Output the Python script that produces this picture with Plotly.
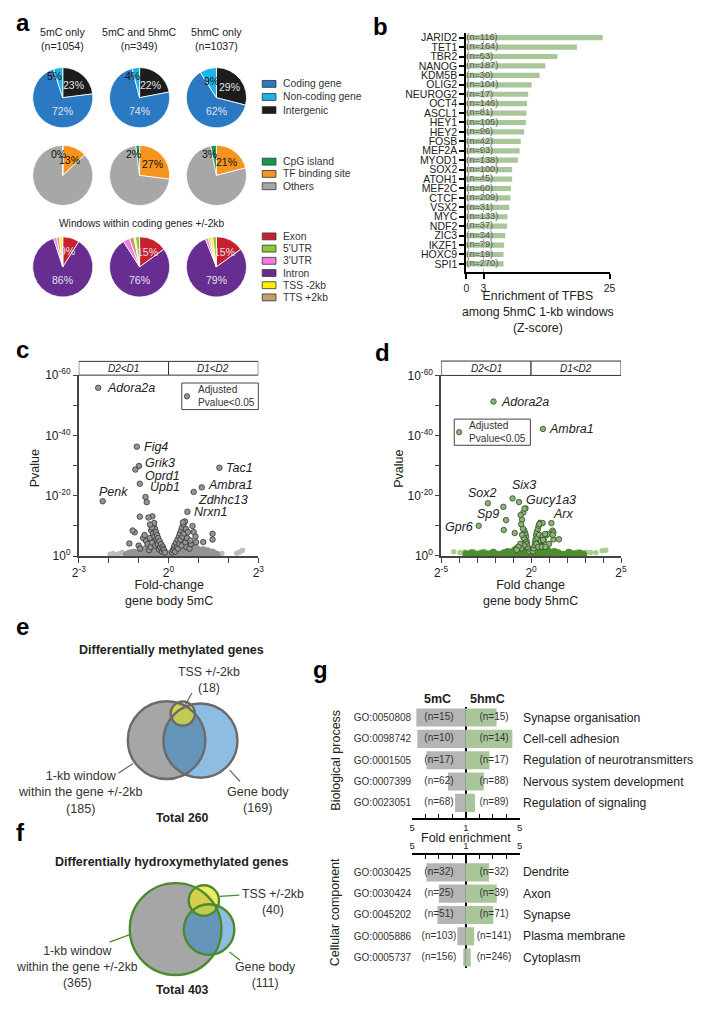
import math
import plotly.graph_objects as go

# The page adds an 8px body margin, so the figure is made 16px smaller than the
# 705x1009 window; coordinates below are given in window pixels and converted.
WIN_W, WIN_H = 705, 1009
PAGE_MARGIN = 8
W, H = WIN_W - 2 * PAGE_MARGIN, WIN_H - 2 * PAGE_MARGIN
FONT = "Liberation Sans, Arial, Helvetica, sans-serif"


def PX(x):
    return (x - PAGE_MARGIN) / W


def PY(y):
    return 1 - (y - PAGE_MARGIN) / H


# ---------------- panel a data ----------------
pie_groups = ["5mC only", "5mC and 5hmC", "5hmC only"]
pie_group_n = [1054, 349, 1037]

region_labels = ["Coding gene", "Non-coding gene", "Intergenic"]
region_colors = ["#2a79c2", "#1cb3ea", "#1c1c1c"]
region_5mC = [72, 5, 23]
region_both = [74, 4, 22]
region_5hmC = [62, 9, 29]

feature_labels = ["CpG island", "TF binding site", "Others"]
feature_colors = ["#139a4f", "#f7941e", "#a7a7a7"]
feature_5mC = [0, 13, 87]
feature_both = [2, 27, 71]
feature_5hmC = [3, 21, 76]

genic_title = "Windows within coding genes +/-2kb"
genic_labels = ["Exon", "5'UTR", "3'UTR", "Intron", "TSS -2kb", "TTS +2kb"]
genic_colors = ["#c9202f", "#8dc63f", "#f57ae6", "#672d91", "#fff200", "#c69c6d"]
genic_5mC = [9, 0.3, 1.7, 86, 1.5, 1.5]
genic_both = [15, 2.2, 3.5, 76, 0.8, 2.5]
genic_5hmC = [15, 2.0, 1.5, 79, 1.5, 1.0]

# ---------------- panel b data ----------------
tf_names = ["JARID2", "TET1", "TBR2", "NANOG", "KDM5B", "OLIG2", "NEUROG2", "OCT4",
            "ASCL1", "HEY1", "HEY2", "FOSB", "MEF2A", "MYOD1", "SOX2", "ATOH1",
            "MEF2C", "CTCF", "VSX2", "MYC", "NDF2", "ZIC3", "IKZF1", "HOXC9", "SPI1"]
tf_z = [23.8, 19.3, 15.9, 13.8, 12.8, 11.4, 10.8, 10.6, 10.5, 10.4, 10.1, 9.5, 9.3,
        9.0, 8.0, 8.0, 7.8, 7.7, 7.5, 7.2, 7.1, 6.8, 6.6, 6.5, 6.5]
tf_n = [116, 164, 53, 187, 30, 104, 17, 146, 81, 105, 96, 42, 93, 138, 100, 45, 60,
        209, 31, 133, 37, 34, 79, 19, 270]
tf_ticks = [0, 3, 25]

# ---------------- panel c data (log2 fold change, -log10 p) ----------------
c_background = [
    (-1.4, 0.4), (-1.3, 0.9), (-1.15, 0.4), (-1.15, 1.1), (-1.0, 0.4), (-1.0, 1.0), (-0.9, 0.5),
    (-0.9, 1.5), (-0.8, 0.4), (-0.8, 1.2), (-0.8, 2.2), (-0.7, 0.5), (-0.7, 1.5), (-0.7, 2.8),
    (-0.6, 0.4), (-0.6, 1.2), (-0.6, 2.3), (-0.6, 3.5), (-0.5, 0.5), (-0.5, 1.5), (-0.5, 2.6),
    (-0.5, 3.8), (-0.5, 4.8), (-0.4, 0.4), (-0.4, 1.2), (-0.4, 2.2), (-0.4, 3.3), (-0.4, 4.3),
    (-0.3, 0.5), (-0.3, 1.5), (-0.3, 2.5), (-0.3, 3.4), (-0.2, 0.4), (-0.2, 1.2), (-0.2, 2.2),
    (-0.12, 0.4), (-0.12, 1.1), (-0.05, 0.4), (0.05, 0.4), (0.12, 0.4), (0.12, 1.1),
    (0.2, 0.4), (0.2, 1.2), (0.2, 2.2), (0.3, 0.5), (0.3, 1.5), (0.3, 2.5), (0.3, 3.4),
    (0.4, 0.4), (0.4, 1.2), (0.4, 2.2), (0.4, 3.3), (0.4, 4.3), (0.5, 0.5), (0.5, 1.5),
    (0.5, 2.6), (0.5, 3.8), (0.5, 4.8), (0.6, 0.4), (0.6, 1.2), (0.6, 2.3), (0.6, 3.5),
    (0.6, 4.5), (0.7, 0.5), (0.7, 1.5), (0.7, 2.8), (0.7, 3.8), (0.8, 0.4), (0.8, 1.2),
    (0.8, 2.5), (0.8, 3.3), (0.9, 0.5), (0.9, 1.5), (0.9, 2.6), (1.0, 0.4), (1.0, 1.2),
    (1.0, 2.0), (1.15, 0.5), (1.15, 1.3), (1.15, 2.0), (1.3, 0.4), (1.3, 1.0), (1.3, 1.6),
    (1.45, 0.5), (1.45, 1.1), (1.6, 0.5),
]
c_faint = [
    (-1.95, 0.6), (-1.85, 0.9), (-1.75, 0.5), (-1.65, 0.8), (-1.55, 1.2), (-1.45, 0.5),
    (-1.35, 1.0), (-1.25, 1.5), (1.5, 1.6), (1.6, 1.0), (1.7, 0.5), (1.78, 0.9),
    (2.28, 1.0), (2.38, 1.4), (2.47, 2.0),
]
c_significant = [
    (-2.35, 55.8), (-1.06, 36.3), (-0.99, 29.9), (-1.11, 28.7), (-0.96, 24.0), (-0.77, 19.6),
    (-0.73, 17.9), (-2.2, 18.2), (-0.96, 13.1), (-0.54, 13.2), (-0.67, 12.8), (-1.13, 7.9),
    (-1.31, 4.2), (-1.2, 8.5), (-1.0, 3.5), (-0.95, 2.5), (-0.85, 6.0), (-0.8, 7.0),
    (-0.75, 5.0), (-0.7, 4.0), (-0.65, 2.0), (-0.62, 6.0), (-0.6, 3.0), (-0.58, 8.5),
    (-0.55, 4.5), (-0.52, 7.5), (-0.5, 10.0), (-0.47, 6.5), (-0.45, 9.0), (-0.44, 3.5),
    (-0.42, 8.0), (-0.4, 5.5), (-0.38, 7.0), (-0.36, 4.0), (-0.35, 6.0), (-0.32, 2.2),
    (-0.3, 5.0), (-0.28, 3.0), (-0.25, 4.0), (-0.22, 1.5), (-0.2, 3.2), (-0.18, 2.5),
    (-0.15, 2.0), (-0.12, 1.2), (-0.48, 11.0), (-0.56, 9.5), (-0.62, 10.5),
    (0.12, 1.2), (0.15, 2.0), (0.18, 2.8), (0.2, 3.5), (0.22, 1.5), (0.25, 4.5), (0.28, 3.0),
    (0.3, 5.5), (0.32, 2.5), (0.35, 6.5), (0.36, 4.0), (0.38, 7.5), (0.4, 5.5), (0.42, 8.5),
    (0.44, 3.5), (0.45, 9.5), (0.47, 6.5), (0.5, 10.5), (0.52, 7.5), (0.55, 11.5), (0.56, 4.5),
    (0.58, 9.0), (0.6, 3.0), (0.62, 6.0), (0.65, 8.0), (0.7, 2.5), (0.75, 4.0), (0.8, 10.0),
    (0.84, 8.0), (0.92, 4.6), (1.16, 4.7), (1.47, 7.4), (1.47, 5.5), (0.9, 6.5), (0.48, 11.2),
    (0.73, 5.2), (1.70, 29.3), (1.11, 22.8), (0.84, 21.3), (0.63, 14.7),
]
c_genes = ["Adora2a", "Fig4", "Grik3", "Oprd1", "Upb1", "Penk", "Tac1", "Ambra1", "Zdhhc13", "Nrxn1"]
c_gene_fc = [-2.35, -1.06, -0.99, -1.11, -0.96, -2.2, 1.70, 1.11, 0.84, 0.63]
c_gene_p = [55.8, 36.3, 29.9, 28.7, 24.0, 18.2, 29.3, 22.8, 21.3, 14.7]
c_label_style = [("left", 8, 0), ("left", 6, 0), ("left", 5, 3), ("left", 9, -6), ("left", 9, -3),
                 ("center", 11, 9), ("left", 6, 0), ("left", 5, 2), ("left", 3, -8), ("left", 6, 0)]

# ---------------- panel d data ----------------
d_background = [
    (-3.6, 0.5), (-3.3, 0.9), (-3.0, 0.4), (-2.7, 0.8), (-2.4, 0.5), (-2.1, 1.0), (-1.8, 0.4),
    (-1.5, 0.9), (-1.3, 1.3), (-1.2, 0.5), (-1.0, 0.4), (-1.0, 1.2), (-0.9, 0.6), (-0.9, 1.8),
    (-0.8, 0.4), (-0.8, 1.2), (-0.8, 2.2), (-0.7, 0.6), (-0.7, 1.6), (-0.7, 2.6), (-0.6, 0.4),
    (-0.6, 1.2), (-0.6, 2.2), (-0.6, 3.0), (-0.5, 0.6), (-0.5, 1.6), (-0.5, 2.6), (-0.5, 3.5),
    (-0.4, 0.4), (-0.4, 1.2), (-0.4, 2.2), (-0.4, 3.2), (-0.3, 0.6), (-0.3, 1.6), (-0.3, 2.6),
    (-0.2, 0.4), (-0.2, 1.2), (-0.2, 2.0), (-0.1, 0.6), (-0.1, 1.4), (0.0, 0.4), (0.0, 1.0),
    (0.1, 0.6), (0.1, 1.4), (0.2, 0.4), (0.2, 1.2), (0.2, 2.0), (0.3, 0.6), (0.3, 1.6),
    (0.3, 2.6), (0.4, 0.4), (0.4, 1.2), (0.4, 2.2), (0.4, 3.2), (0.5, 0.6), (0.5, 1.6),
    (0.5, 2.6), (0.5, 3.5), (0.6, 0.4), (0.6, 1.2), (0.6, 2.2), (0.6, 3.0), (0.7, 0.6),
    (0.7, 1.6), (0.7, 2.6), (0.8, 0.4), (0.8, 1.2), (0.8, 2.2), (0.9, 0.6), (0.9, 1.8),
    (1.0, 0.4), (1.0, 1.2), (1.2, 0.5), (1.3, 1.3), (1.5, 0.9), (1.8, 0.4), (2.1, 1.0),
    (2.4, 0.5), (2.7, 0.8), (2.9, 0.4),
]
d_faint = [
    (-4.3, 1.4), (-3.95, 1.1), (-3.7, 1.3), (-3.4, 1.0), (-3.15, 1.4), (-2.85, 1.2), (-2.6, 1.5),
    (2.55, 1.3), (2.8, 1.0), (3.05, 1.2), (3.3, 1.1), (3.6, 1.0), (3.95, 1.7), (4.15, 1.9),
]
d_significant = [
    (-2.09, 51.3), (0.66, 42.2), (-2.40, 17.5), (-1.54, 16.3), (-1.03, 19.1), (-0.67, 17.9),
    (-2.91, 10.0), (1.13, 10.9), (-1.39, 11.9), (-1.52, 8.6), (-0.91, 7.6), (-0.31, 15.8),
    (-0.43, 14.4), (-0.58, 13.6), (-0.36, 15.7), (-0.5, 12.0), (-0.55, 10.5),
    (-0.1, 1.5), (-0.15, 2.5), (-0.2, 3.0), (-0.22, 4.0), (-0.25, 5.0), (-0.28, 6.5), (-0.3, 4.5),
    (-0.32, 7.5), (-0.35, 5.5), (-0.38, 8.5), (-0.4, 3.5), (-0.42, 6.0), (-0.45, 9.0), (-0.5, 7.0),
    (-0.55, 2.5), (-0.6, 4.0), (-0.7, 3.0), (-0.8, 2.0),
    (0.1, 1.5), (0.15, 2.5), (0.2, 3.5), (0.22, 4.5), (0.25, 5.5), (0.28, 7.0), (0.3, 4.0),
    (0.32, 8.0), (0.35, 6.0), (0.38, 9.0), (0.4, 3.0), (0.42, 10.0), (0.45, 7.0), (0.5, 11.0),
    (0.55, 5.0), (0.6, 3.0), (0.65, 6.5), (0.7, 5.1), (0.84, 6.8), (0.93, 7.3), (1.19, 8.4),
    (1.24, 7.8), (1.24, 5.5), (1.55, 5.5), (1.0, 4.0), (0.8, 3.0), (0.64, 10.9), (0.46, 10.6),
    (1.2, 7.0), (0.78, 7.3), (0.67, 5.3),
]
d_genes = ["Adora2a", "Ambra1", "Sox2", "Sp9", "Six3", "Gucy1a3", "Gpr6", "Arx"]
d_gene_fc = [-2.09, 0.66, -2.40, -1.54, -1.03, -0.67, -2.91, 1.13]
d_gene_p = [51.3, 42.2, 17.5, 16.3, 19.1, 17.9, 10.0, 10.9]
d_label_style = [("left", 7, 0), ("left", 5, 0), ("right", 10, 10), ("right", -3, -7),
                 ("left", -2, 13), ("left", 6, 2), ("right", -5, -1), ("left", 1, 9)]
legend_text = "Adjusted<br>Pvalue&lt;0.05"

# ---------------- panel e / f data ----------------
venn_e = {"window": 185, "body": 169, "tss": 18, "total": 260}
venn_f = {"window": 365, "body": 111, "tss": 40, "total": 403}

# ---------------- panel g data ----------------
bp_go = ["GO:0050808", "GO:0098742", "GO:0001505", "GO:0007399", "GO:0023051"]
bp_terms = ["Synapse organisation", "Cell-cell adhesion", "Regulation of neurotransmitters",
            "Nervous system development", "Regulation of signaling"]
bp_fold_5mc = [4.68, 4.61, 3.93, 2.33, 1.80]
bp_fold_5hmc = [3.29, 4.46, 2.76, 2.34, 1.68]
bp_n_5mc = [15, 10, 17, 62, 68]
bp_n_5hmc = [15, 14, 17, 88, 89]

cc_go = ["GO:0030425", "GO:0030424", "GO:0045202", "GO:0005886", "GO:0005737"]
cc_terms = ["Dendrite", "Axon", "Synapse", "Plasma membrane", "Cytoplasm"]
cc_fold_5mc = [3.93, 3.01, 3.11, 1.63, 1.19]
cc_fold_5hmc = [2.72, 3.30, 3.04, 1.61, 1.36]
cc_n_5mc = [32, 25, 51, 103, 156]
cc_n_5hmc = [32, 39, 71, 141, 246]
fold_ticks = [1, 2, 3, 4, 5]

# =====================================================================
fig = go.Figure()
annotations = []
shapes = []


def ann(x, y, text, size=11.5, color="#222", xanchor="center", yanchor="middle", **kw):
    d = dict(x=PX(x), y=PY(y), xref="paper", yref="paper", text=text, showarrow=False,
             font=dict(size=size, color=color, family=FONT), xanchor=xanchor, yanchor=yanchor,
             borderpad=0)
    d.update(kw)
    annotations.append(d)


# ---- panel letters ----
for letter, lx, ly in [("a", 8, 14), ("b", 372, 18), ("c", 8, 346), ("d", 374, 349),
                       ("e", 8, 627), ("f", 8, 837), ("g", 311, 671)]:
    ann(lx, ly, "<b>%s</b>" % letter, size=24, color="#000", xanchor="left")

# ---- panel a: pies ----
R = 30.7
col_x = [56.7, 135.0, 213.3]
for i, g in enumerate(pie_groups):
    ann(col_x[i], 30.0, "%s<br>(n=%d)" % (g, pie_group_n[i]), size=10.6)
ann(137, 218, genic_title, size=10.2)

pie_rows = [
    dict(labels=region_labels, colors=region_colors, values=[region_5mC, region_both, region_5hmC],
         order=[2, 0, 1], shown={0, 1, 2}, dark={0, 2}, cy=90.0, legend_y=76.0, step=13.3),
    dict(labels=feature_labels, colors=feature_colors, values=[feature_5mC, feature_both, feature_5hmC],
         order=[1, 2, 0], shown={0, 1}, dark=set(), cy=169.0, legend_y=155.0, step=12.5),
    dict(labels=genic_labels, colors=genic_colors, values=[genic_5mC, genic_both, genic_5hmC],
         order=[0, 3, 2, 5, 4, 1], shown={0, 3}, dark={0, 3}, cy=262.0, legend_y=231.0, step=12.4),
]

for row in pie_rows:
    cy = row["cy"]
    for ci, vals in enumerate(row["values"]):
        cx = col_x[ci]
        order = row["order"]
        fig.add_trace(go.Pie(
            labels=[row["labels"][k] for k in order],
            values=[vals[k] for k in order],
            marker=dict(colors=[row["colors"][k] for k in order], line=dict(color="white", width=0.8)),
            sort=False, direction="clockwise", rotation=0, textinfo="none", hoverinfo="label+percent",
            showlegend=False,
            domain=dict(x=[PX(cx - R), PX(cx + R)], y=[PY(cy + R), PY(cy - R)]),
        ))
        total = float(sum(vals))
        cum = 0.0
        for k in order:
            frac = vals[k] / total
            start = cum
            cum += frac
            if k not in row["shown"]:
                continue
            mid = (start + frac / 2) * 2 * math.pi
            if frac > 0.5:
                ang, r, xa, xs = math.pi, 0.45 * R, "center", 0
            elif frac < 0.06:
                ang, r, xa, xs = mid, 0.72 * R, "right", 4
            else:
                ang, r, xa, xs = mid, 0.56 * R, "center", 0
            tx = cx + r * math.sin(ang)
            ty = cy - r * math.cos(ang)
            col = "#e2e0ec" if k in row["dark"] else "#111"
            ann(tx, ty, "%d%%" % round(vals[k]), size=10.5, color=col, xanchor=xa, xshift=xs)
    # legend drawn as swatches + text
    for j, (lab, colr) in enumerate(zip(row["labels"], row["colors"])):
        yy = row["legend_y"] + j * row["step"]
        shapes.append(dict(type="rect", xref="paper", yref="paper", x0=PX(260), x1=PX(274),
                           y0=PY(yy + 3.5), y1=PY(yy - 3.5), fillcolor=colr,
                           line=dict(color="#333", width=0.8)))
        ann(280, yy, lab, size=10.3, color="#333", xanchor="left")

# ---- panel b ----
fig.add_trace(go.Bar(x=tf_z, y=tf_names, orientation="h", width=0.55,
                     marker=dict(color="#a9c69a", line=dict(width=0)),
                     xaxis="x", yaxis="y", showlegend=False))
fig.add_trace(go.Scatter(x=[0.0] * len(tf_names), y=tf_names, mode="text",
                         text=["(n=%d)" % n for n in tf_n], textposition="middle right",
                         textfont=dict(size=9.2, color="#555", family=FONT),
                         xaxis="x", yaxis="y", showlegend=False, cliponaxis=False, hoverinfo="skip"))
shapes.append(dict(type="line", xref="x", yref="y domain", x0=3, x1=3, y0=0, y1=1.0,
                   line=dict(color="#aaa", width=1, dash="dot")))
ann(541, 307.5, "Enrichment of TFBS<br>among 5hmC 1-kb windows<br>(Z-score)", size=12.3)

# ---- panels c and d ----
def volcano(bg, faint, sig, xa, ya, bgcol, faintcol, sigfill, sigline):
    fig.add_trace(go.Scatter(x=[p[0] for p in faint], y=[p[1] for p in faint], mode="markers",
                             marker=dict(size=5.5, color=faintcol), xaxis=xa, yaxis=ya,
                             showlegend=False, hoverinfo="skip"))
    fig.add_trace(go.Scatter(x=[p[0] for p in bg], y=[p[1] for p in bg], mode="markers",
                             marker=dict(size=8, color=bgcol), xaxis=xa, yaxis=ya,
                             showlegend=False, hoverinfo="skip"))
    fig.add_trace(go.Scatter(x=[p[0] for p in sig], y=[p[1] for p in sig], mode="markers",
                             marker=dict(size=5.5, color=sigfill, line=dict(color=sigline, width=0.8)),
                             xaxis=xa, yaxis=ya, name="Adjusted Pvalue&lt;0.05", showlegend=False))


volcano(c_background, c_faint, c_significant, "x2", "y2", "#939393", "#bdbdbd", "#959595", "#333")
volcano(d_background, d_faint, d_significant, "x3", "y3", "#4f8c30", "#a9d08e", "#8db27a", "#2f4d22")


def gene_labels(names, fc, p, styles, xa, ya):
    for n, x, y, (anc, xs, ys) in zip(names, fc, p, styles):
        annotations.append(dict(x=x, y=y, xref=xa, yref=ya, text="<i>%s</i>" % n, showarrow=False,
                                xanchor=anc, yanchor="middle", xshift=xs, yshift=ys, borderpad=0,
                                font=dict(size=12.5, color="#222", family=FONT)))


gene_labels(c_genes, c_gene_fc, c_gene_p, c_label_style, "x2", "y2")
gene_labels(d_genes, d_gene_fc, d_gene_p, d_label_style, "x3", "y3")

for xa, lo, hi, top, bot in [("x2", -3, 3, 358, 372), ("x3", -5, 5, 357.7, 372.3)]:
    for a, b, lab in [(lo, 0, "D2&lt;D1"), (0, hi, "D1&lt;D2")]:
        shapes.append(dict(type="rect", xref=xa, yref="paper", x0=a, x1=b, y0=PY(bot), y1=PY(top),
                           line=dict(color="#333", width=1), fillcolor="white"))
        annotations.append(dict(x=(a + b) / 2, y=PY((top + bot) / 2), xref=xa, yref="paper",
                                text="<i>%s</i>" % lab, showarrow=False, borderpad=0,
                                font=dict(size=10, color="#222", family=FONT)))

# boxed keys for the significant points
for (bx0, by0, bx1, by1), (mx, my), tx, fill, edge in [
        ((178, 380, 256, 407), (183.3, 393.5), 193.3, "#959595", "#333"),
        ((455.7, 416.7, 533.3, 443.3), (460.7, 430), 470, "#8db27a", "#2f4d22")]:
    shapes.append(dict(type="rect", xref="paper", yref="paper", x0=PX(bx0), x1=PX(bx1),
                       y0=PY(by1), y1=PY(by0), line=dict(color="#444", width=1), fillcolor="white"))
    shapes.append(dict(type="circle", xref="paper", yref="paper", x0=PX(mx - 2.7), x1=PX(mx + 2.7),
                       y0=PY(my + 2.7), y1=PY(my - 2.7), fillcolor=fill, line=dict(color=edge, width=0.8)))
    ann(tx, (by0 + by1) / 2, legend_text, size=10.1, color="#333", xanchor="left", align="left")

ann(28, 467, "Pvalue", size=12.5, textangle=-90)
ann(398.5, 467, "Pvalue", size=12.5, textangle=-90)
ann(165, 593, "Fold-change<br>gene body 5mC", size=12.5)
ann(533, 593, "Fold change<br>gene body 5hmC", size=12.5)

# ---- panels e and f: Venn diagrams ----
def venn(data, k, c_win, c_body, c_tss, edge):
    r_win = k * math.sqrt(data["window"])
    r_body = k * math.sqrt(data["body"])
    r_tss = k * math.sqrt(data["tss"])
    circles = [(c_win, r_win, "#a6a6a6"), (c_body, r_body, "rgba(49,135,204,0.55)"),
               (c_tss, r_tss, "rgba(232,226,40,0.7)")]
    for (cx, cy), r, fc in circles:
        shapes.append(dict(type="circle", xref="paper", yref="paper", x0=PX(cx - r), x1=PX(cx + r),
                           y0=PY(cy + r), y1=PY(cy - r), fillcolor=fc, line=dict(width=0)))
    for (cx, cy), r, fc in circles:
        shapes.append(dict(type="circle", xref="paper", yref="paper", x0=PX(cx - r), x1=PX(cx + r),
                           y0=PY(cy + r), y1=PY(cy - r), line=dict(color=edge, width=2.4)))


venn(venn_e, 39.5 / math.sqrt(185), (162.5, 743.0), (197.0, 743.5), (179.0, 716.0), "#6b6b6b")
venn(venn_f, 46.7 / math.sqrt(365), (171.7, 935.0), (205.8, 935.5), (200.5, 906.0), "#4c8a2c")


def leader(x0, y0, x1, y1, color):
    shapes.append(dict(type="line", xref="paper", yref="paper", x0=PX(x0), y0=PY(y0), x1=PX(x1),
                       y1=PY(y1), line=dict(color=color, width=1.2)))


leader(188.3, 695, 181, 708.3, "#666")
leader(113.3, 776.7, 128.3, 766.7, "#666")
leader(237.3, 785, 226.7, 773.3, "#666")
leader(216.7, 901.7, 236.7, 900.5, "#4c8a2c")
leader(104.3, 948.3, 125, 940.7, "#4c8a2c")
leader(226.7, 958.3, 237.3, 966.7, "#4c8a2c")

ann(168, 651, "<b>Differentially methylated genes</b>", size=12.5)
ann(205.7, 682, "TSS +/-2kb<br>(%d)" % venn_e["tss"], size=12.3, color="#333")
ann(75, 796, "1-kb window<br>within the gene +/-2kb<br>(%d)" % venn_e["window"], size=12.6, color="#333")
ann(255.5, 804, "Gene body<br>(%d)" % venn_e["body"], size=12.6, color="#333")
ann(178.3, 821.7, "<b>Total %d</b>" % venn_e["total"], size=12.3)

ann(168, 866.7, "<b>Differentially hydroxymethylated genes</b>", size=12.5)
ann(270.7, 908, "TSS +/-2kb<br>(%d)" % venn_f["tss"], size=12.3, color="#333")
ann(71.7, 974, "1-kb window<br>within the gene +/-2kb<br>(%d)" % venn_f["window"], size=12.3, color="#333")
ann(263, 981.5, "Gene body<br>(%d)" % venn_f["body"], size=12.3, color="#333")
ann(178.3, 996.5, "<b>Total %d</b>" % venn_f["total"], size=12.3)

# ---- panel g ----
def go_panel(ids, terms, f5mc, f5hmc, n5mc, n5hmc, xa, ya, yref):
    fig.add_trace(go.Bar(y=ids, x=[1 - f for f in f5mc], orientation="h", width=0.85,
                         marker=dict(color="#b5b5b5", line=dict(width=0)), xaxis=xa, yaxis=ya, showlegend=False))
    fig.add_trace(go.Bar(y=ids, x=[f - 1 for f in f5hmc], orientation="h", width=0.85,
                         marker=dict(color="#a9c69a", line=dict(width=0)), xaxis=xa, yaxis=ya, showlegend=False))
    fig.add_trace(go.Scatter(y=ids, x=[-2.0] * len(ids), mode="text", text=["(n=%d)" % n for n in n5mc],
                             textfont=dict(size=10, color="#333", family=FONT), xaxis=xa, yaxis=ya,
                             showlegend=False, cliponaxis=False, hoverinfo="skip"))
    fig.add_trace(go.Scatter(y=ids, x=[2.1] * len(ids), mode="text", text=["(n=%d)" % n for n in n5hmc],
                             textfont=dict(size=10, color="#333", family=FONT), xaxis=xa, yaxis=ya,
                             showlegend=False, cliponaxis=False, hoverinfo="skip"))
    for i, t in enumerate(terms):
        annotations.append(dict(x=PX(525), y=i, xref="paper", yref=yref, text=t, showarrow=False,
                                xanchor="left", yanchor="middle", borderpad=0,
                                font=dict(size=12.2, color="#222", family=FONT)))


go_panel(bp_go, bp_terms, bp_fold_5mc, bp_fold_5hmc, bp_n_5mc, bp_n_5hmc, "x4", "y4", "y4")
go_panel(cc_go, cc_terms, cc_fold_5mc, cc_fold_5hmc, cc_n_5mc, cc_n_5hmc, "x5", "y5", "y5")

ann(438.3, 701, "<b>5mC</b>", size=12.5)
ann(490, 701, "<b>5hmC</b>", size=12.5)
ann(467.7, 842.3, "Fold enrichment", size=12.5)
ann(335, 763, "Biological process", size=12.5, textangle=-90)
ann(335, 918, "Cellular component", size=12.5, textangle=-90)

fold_vals = [-(f - 1) for f in fold_ticks[::-1]] + [f - 1 for f in fold_ticks[1:]]
fold_text = [str(f) if f in (1, 5) else "" for f in fold_ticks[::-1]] + \
            [str(f) if f == 5 else "" for f in fold_ticks[1:]]

axis_common = dict(showgrid=False, zeroline=False, showline=True)
p_ticks = [0, 10, 20, 30, 40, 50, 60]
p_text = ["10<sup>0</sup>", "", "10<sup>-20</sup>", "", "10<sup>-40</sup>", "", "10<sup>-60</sup>"]

layout_axes = dict(
    xaxis=dict(domain=[PX(468), PX(614)], range=[0, 25], anchor="y", tickvals=tf_ticks,
               ticks="outside", ticklen=5, tickwidth=1.5, tickcolor="black", linecolor="black",
               linewidth=2, tickfont=dict(size=10.5, color="#222"), **axis_common),
    yaxis=dict(domain=[PY(267.1), PY(24.2)], anchor="x", type="category", categoryorder="array",
               categoryarray=tf_names, tickmode="array", tickvals=tf_names, ticktext=tf_names,
               range=[24.85, -0.5], ticks="outside", ticklen=5, tickwidth=1.5,
               tickcolor="black", linecolor="black", linewidth=2,
               tickfont=dict(size=10.5, color="#222"), **axis_common),
    xaxis2=dict(domain=[PX(73), PX(256)], range=[-3, 3], anchor="y2",
                tickvals=[-3, -2, -1, 0, 1, 2, 3],
                ticktext=["2<sup>-3</sup>", "", "", "2<sup>0</sup>", "", "", "2<sup>3</sup>"],
                ticks="outside", ticklen=5, tickwidth=1.2, tickcolor="#444", linecolor="#444",
                linewidth=1.5, tickfont=dict(size=12, color="#222"), **axis_common),
    yaxis2=dict(domain=[PY(556), PY(372)], range=[0, 60], anchor="x2", tickvals=p_ticks, ticktext=p_text,
                ticks="outside", ticklen=4, tickwidth=1.2, tickcolor="#444", linecolor="#444",
                linewidth=1.5, tickfont=dict(size=12, color="#222"), **axis_common),
    xaxis3=dict(domain=[PX(442.3), PX(625.7)], range=[-5, 5], anchor="y3",
                tickvals=list(range(-5, 6)),
                ticktext=["2<sup>-5</sup>"] + [""] * 4 + ["2<sup>0</sup>"] + [""] * 4 + ["2<sup>5</sup>"],
                ticks="outside", ticklen=5, tickwidth=1.2, tickcolor="#444", linecolor="#444",
                linewidth=1.5, tickfont=dict(size=12, color="#222"), **axis_common),
    yaxis3=dict(domain=[PY(555.7), PY(372.3)], range=[0, 60], anchor="x3", tickvals=p_ticks, ticktext=p_text,
                ticks="outside", ticklen=4, tickwidth=1.2, tickcolor="#444", linecolor="#444",
                linewidth=1.5, tickfont=dict(size=12, color="#222"), **axis_common),
    xaxis4=dict(domain=[PX(412.7), PX(522.3)], range=[-4, 4], anchor="y4", tickvals=fold_vals,
                ticktext=fold_text, ticks="inside", ticklen=4, tickwidth=1.2, tickcolor="black",
                linecolor="black", linewidth=2, showline=True, showgrid=False, zeroline=True,
                zerolinecolor="black", zerolinewidth=1.5, tickfont=dict(size=9.5, color="#222")),
    yaxis4=dict(domain=[PY(821.9), PY(709.2)], anchor="x4", type="category", categoryorder="array",
                categoryarray=bp_go, range=[4.7, -0.5], showline=False, showgrid=False, zeroline=False,
                ticks="", tickfont=dict(size=10, color="#333")),
    xaxis5=dict(domain=[PX(412.7), PX(522.3)], range=[-4, 4], anchor="y5", side="top", tickvals=fold_vals,
                ticktext=fold_text, ticks="inside", ticklen=4, tickwidth=1.2, tickcolor="black",
                linecolor="black", linewidth=2, showline=True, showgrid=False, zeroline=True,
                zerolinecolor="black", zerolinewidth=1.5, tickfont=dict(size=9.5, color="#222")),
    yaxis5=dict(domain=[PY(974.8), PY(860)], anchor="x5", type="category", categoryorder="array",
                categoryarray=cc_go, range=[4.5, -0.8], showline=False, showgrid=False, zeroline=False,
                ticks="", tickfont=dict(size=10, color="#333")),
)

fig.update_layout(
    width=W, height=H, margin=dict(l=0, r=0, t=0, b=0),
    paper_bgcolor="white", plot_bgcolor="white",
    font=dict(family=FONT, color="#222"),
    barmode="relative", showlegend=False, hovermode=False,
    annotations=annotations, shapes=shapes,
    **layout_axes,
)

fig.write_html("out.html", config={"displayModeBar": False})
